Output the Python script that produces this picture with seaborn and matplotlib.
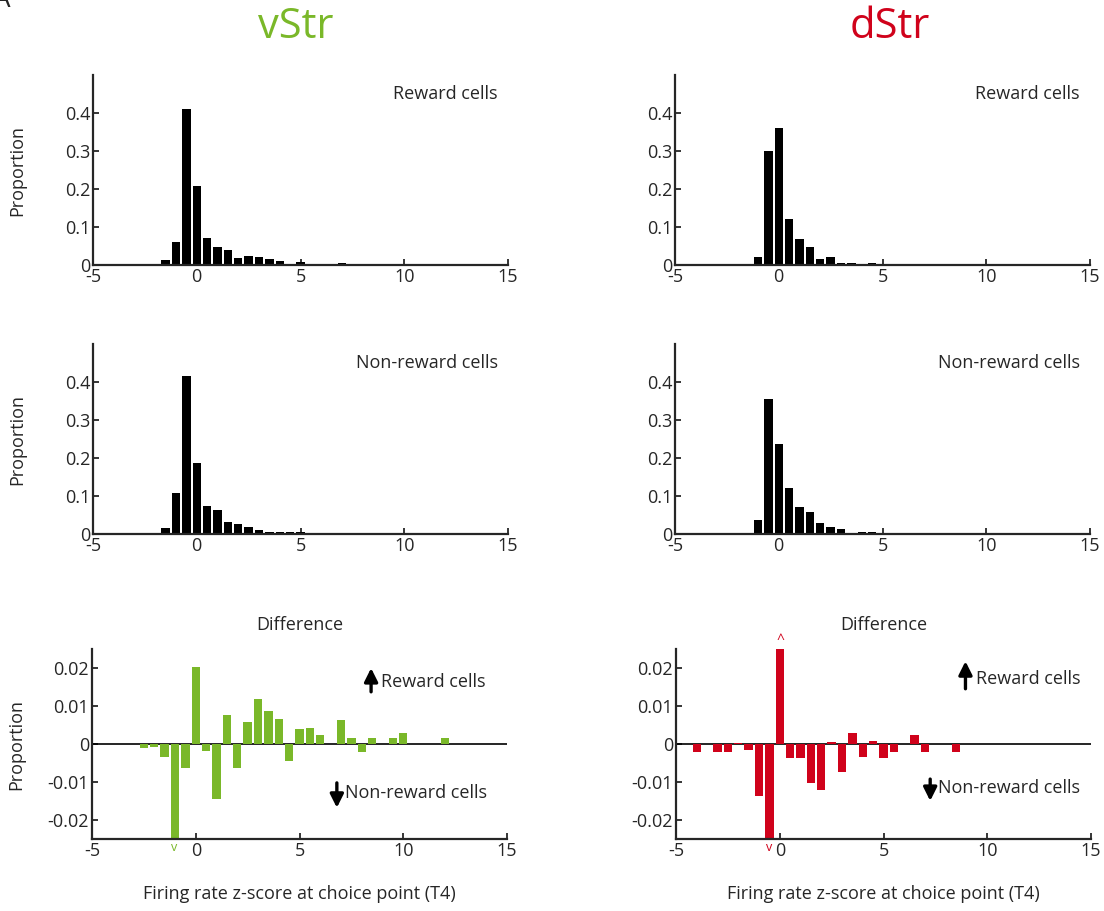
import numpy as np
import pandas as pd
import matplotlib
matplotlib.use('Agg')
import matplotlib.pyplot as plt
import seaborn as sns

sns.set_style('ticks')
plt.rcParams['font.family'] = ['Open Sans', 'DejaVu Sans']
plt.rcParams['axes.unicode_minus'] = False

# bin centres (z-score) and proportions
v_rew_x = [-2.0, -1.5, -1.0, -0.5, 0.0, 0.5, 1.0, 1.5, 2.0, 2.5, 3.0, 3.5, 4.0, 4.5, 5.0, 5.5, 6.0, 6.5, 7.0]
v_rew_y = [0.002, 0.013, 0.061, 0.41, 0.208, 0.07, 0.048, 0.039, 0.019, 0.024, 0.022, 0.015, 0.01, 0.001, 0.008, 0.003, 0.003, 0.0, 0.006]

d_rew_x = [-1.0, -0.5, 0.0, 0.5, 1.0, 1.5, 2.0, 2.5, 3.0, 3.5, 4.0, 4.5]
d_rew_y = [0.022, 0.30, 0.36, 0.12, 0.068, 0.048, 0.017, 0.02, 0.005, 0.005, 0.003, 0.005]

v_non_x = [-2.0, -1.5, -1.0, -0.5, 0.0, 0.5, 1.0, 1.5, 2.0, 2.5, 3.0, 3.5, 4.0, 4.5, 5.0, 5.5, 6.0, 6.5]
v_non_y = [0.003, 0.017, 0.107, 0.415, 0.187, 0.073, 0.063, 0.031, 0.026, 0.018, 0.011, 0.006, 0.004, 0.005, 0.004, 0.0, 0.0, 0.001]

d_non_x = [-1.5, -1.0, -0.5, 0.0, 0.5, 1.0, 1.5, 2.0, 2.5, 3.0, 3.5, 4.0, 4.5, 5.0]
d_non_y = [0.002, 0.036, 0.355, 0.237, 0.122, 0.072, 0.059, 0.03, 0.018, 0.013, 0.002, 0.005, 0.004, 0.003]

v_diff_x = [-2.5, -2.0, -1.5, -1.0, -0.5, 0.0, 0.5, 1.0, 1.5, 2.0, 2.5, 3.0, 3.5, 4.0, 4.5, 5.0,
            5.5, 6.0, 6.5, 7.0, 7.5, 8.0, 8.5, 9.0, 9.5, 10.0, 12.0]
v_diff_y = [-0.001, -0.0008, -0.0034, -0.028, -0.0064, 0.0203, -0.0019, -0.0145, 0.0077, -0.0062,
            0.0058, 0.0119, 0.0088, 0.0065, -0.0045, 0.004, 0.0043, 0.0023, 0.0, 0.0064, 0.0015,
            -0.0021, 0.0015, 0.0, 0.0015, 0.003, 0.0015]

d_diff_x = [-4.0, -3.0, -2.5, -2.0, -1.5, -1.0, -0.5, 0.0, 0.5, 1.0, 1.5, 2.0, 2.5, 3.0, 3.5, 4.0,
            4.5, 5.0, 5.5, 6.0, 6.5, 7.0, 8.5]
d_diff_y = [-0.002, -0.002, -0.002, 0.0002, -0.0017, -0.0137, -0.028, 0.028, -0.0036, -0.0036,
            -0.0103, -0.0122, 0.0005, -0.0074, 0.003, -0.0035, 0.0009, -0.0038, -0.002, 0.0,
            0.0023, -0.002, -0.002]

green = '#7ab829'
red = '#d0021b'
fs = 13

fig = plt.figure(figsize=(11.04, 9.11), dpi=100)

W = 415 / 1104
H = 190 / 911
lefts = [93 / 1104, 675 / 1104]
bottoms = [1 - 265 / 911, 1 - 534 / 911, 1 - 839 / 911]


def style_axis(ax):
    sns.despine(ax=ax)
    for s in ['left', 'bottom']:
        ax.spines[s].set_linewidth(1.6)
    ax.tick_params(direction='in', length=4, width=1.3, labelsize=fs, pad=2)
    ax.set_xlim(-5, 15)
    ax.set_xticks([-5, 0, 5, 10, 15])
    ax.set_xticklabels(['-5', '0', '5', '10', '15'])
    ax.set_xlabel('')
    ax.set_ylabel('')


def hist_panel(ax, xs, ys, label, ylab):
    df = pd.DataFrame({'z': xs, 'p': ys})
    sns.barplot(data=df, x='z', y='p', native_scale=True, color='black',
                saturation=1, width=0.8, errorbar=None, ax=ax, linewidth=0)
    style_axis(ax)
    ax.set_ylim(0, 0.5)
    ax.set_yticks([0, 0.1, 0.2, 0.3, 0.4])
    ax.set_yticklabels(['0', '0.1', '0.2', '0.3', '0.4'])
    ax.text(0.975, 0.9, label, transform=ax.transAxes, ha='right', va='center', fontsize=fs)
    if ylab:
        ax.set_ylabel('Proportion', fontsize=fs)
        ax.yaxis.set_label_coords(-0.16, 0.5)


def diff_panel(ax, xs, ys, col, ylab):
    df = pd.DataFrame({'z': xs, 'p': ys})
    ax.axhline(0, color='black', lw=1.2, zorder=1)
    sns.barplot(data=df, x='z', y='p', native_scale=True, color=col,
                saturation=1, width=0.8, errorbar=None, ax=ax, linewidth=0, zorder=2)
    style_axis(ax)
    ax.set_ylim(-0.025, 0.025)
    ax.set_yticks([-0.02, -0.01, 0, 0.01, 0.02])
    ax.set_yticklabels(['-0.02', '-0.01', '0', '0.01', '0.02'])
    ax.set_title('Difference', fontsize=fs, pad=14)
    ax.set_xlabel('Firing rate z-score at choice point (T4)', fontsize=fs, labelpad=18)
    if ylab:
        ax.set_ylabel('Proportion', fontsize=fs)
        ax.yaxis.set_label_coords(-0.16, 0.5)


ax = fig.add_axes([lefts[0], bottoms[0], W, H])
hist_panel(ax, v_rew_x, v_rew_y, 'Reward cells', True)
ax = fig.add_axes([lefts[1], bottoms[0], W, H])
hist_panel(ax, d_rew_x, d_rew_y, 'Reward cells', False)
ax = fig.add_axes([lefts[0], bottoms[1], W, H])
hist_panel(ax, v_non_x, v_non_y, 'Non-reward cells', True)
ax = fig.add_axes([lefts[1], bottoms[1], W, H])
hist_panel(ax, d_non_x, d_non_y, 'Non-reward cells', False)

# difference panels
axv = fig.add_axes([92 / 1104, bottoms[2], W, H])
diff_panel(axv, v_diff_x, v_diff_y, green, True)
axd = fig.add_axes([676 / 1104, bottoms[2], W, H])
diff_panel(axd, d_diff_x, d_diff_y, red, False)

arrow = dict(arrowstyle='-|>,head_width=0.4,head_length=0.8', lw=2.4, color='black')
axv.annotate('', xy=(8.45, 0.0207), xytext=(8.45, 0.0130), arrowprops=arrow)
axv.text(8.95, 0.0162, 'Reward cells', fontsize=fs, va='center', ha='left')
axv.annotate('', xy=(6.8, -0.0175), xytext=(6.8, -0.0095), arrowprops=arrow)
axv.text(7.2, -0.0128, 'Non-reward cells', fontsize=fs, va='center', ha='left')
axv.text(-1.05, -0.0255, 'v', color=green, fontsize=9, ha='center', va='top')

axd.annotate('', xy=(8.95, 0.0225), xytext=(8.95, 0.0138), arrowprops=arrow)
axd.text(9.45, 0.0172, 'Reward cells', fontsize=fs, va='center', ha='left')
axd.annotate('', xy=(7.25, -0.0157), xytext=(7.25, -0.0085), arrowprops=arrow)
axd.text(7.65, -0.0116, 'Non-reward cells', fontsize=fs, va='center', ha='left')
axd.text(-0.52, -0.0255, 'v', color=red, fontsize=9, ha='center', va='top')
axd.text(0.02, 0.0252, '^', color=red, fontsize=10, ha='center', va='bottom')

fig.text(296 / 1104, 1 - 27 / 911, 'vStr', color=green, fontsize=30, ha='center', va='center')
fig.text(890 / 1104, 1 - 27 / 911, 'dStr', color=red, fontsize=30, ha='center', va='center')
fig.text(-0.006, 1 - 14 / 911, 'A', fontsize=20, ha='left', va='bottom')

fig.savefig('out.png', dpi=100)
